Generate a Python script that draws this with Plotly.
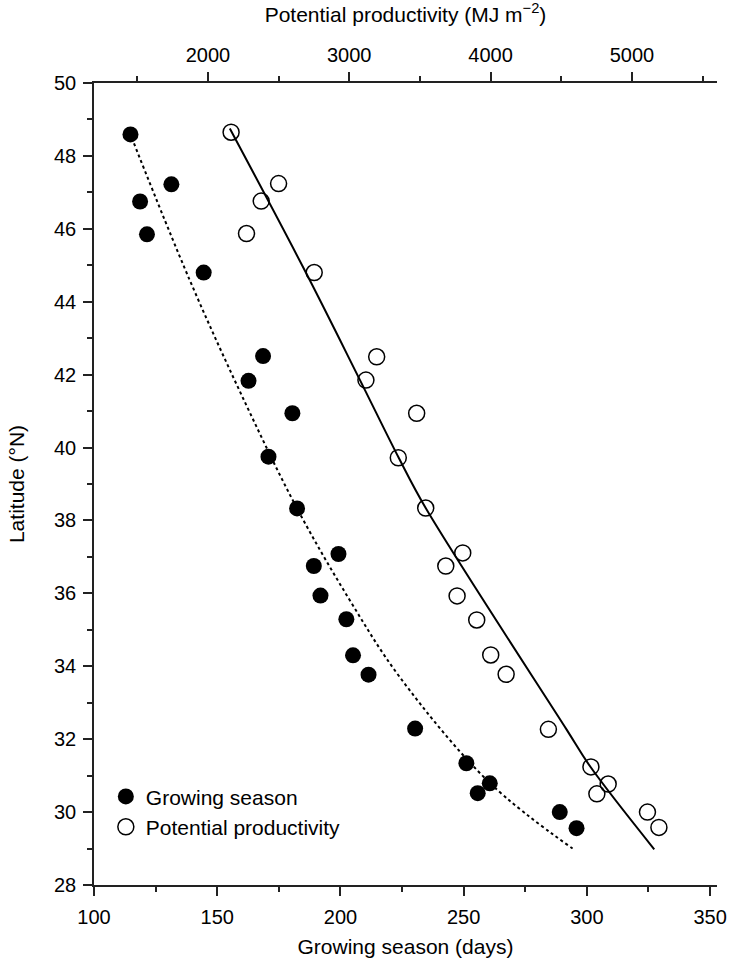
import plotly.graph_objects as go

# Growing season (days) vs latitude (filled circles, bottom axis)
gs_days = [114.8, 131.4, 118.7, 121.5, 144.5, 168.6, 162.7, 180.5, 170.8, 182.4,
           199.2, 189.2, 191.9, 202.4, 205.1, 211.4, 230.3, 251.1, 260.6, 255.7,
           289.0, 295.8]
gs_lat = [48.59, 47.22, 46.75, 45.85, 44.80, 42.51, 41.83, 40.94, 39.75, 38.33,
          37.08, 36.75, 35.94, 35.29, 34.30, 33.77, 32.29, 31.34, 30.79, 30.52,
          30.00, 29.56]

# Potential productivity (MJ m-2) vs latitude (open circles, top axis)
pp_mj = [2164, 2500, 2377, 2273, 2752, 3194, 3118, 3477, 3347, 3541,
         3803, 3683, 3763, 3902, 4001, 4110, 4409, 4710, 4832, 4752,
         5110, 5191]
pp_lat = [48.65, 47.24, 46.76, 45.87, 44.80, 42.49, 41.85, 40.94, 39.72, 38.34,
          37.11, 36.75, 35.93, 35.27, 34.31, 33.78, 32.27, 31.24, 30.77, 30.50,
          30.00, 29.58]

# Fitted curves
gs_fit_days = [115.3, 138.8, 161.9, 182.4, 203.0, 224.1, 260.6, 294.2]
gs_fit_lat = [48.50, 44.60, 41.15, 38.33, 35.90, 33.70, 30.80, 29.00]

pp_fit_mj = [2155, 2693, 3076, 3350, 3541, 4537, 4705, 5158]
pp_fit_lat = [48.75, 44.80, 41.85, 39.72, 38.34, 32.27, 31.25, 28.98]

FONT = "Liberation Sans, Arial, Helvetica, sans-serif"
AX = "#222222"

fig = go.Figure()
fig.add_trace(go.Scatter(x=gs_fit_days, y=gs_fit_lat, mode="lines",
                         line=dict(color="black", width=2, dash="dot", shape="spline"),
                         showlegend=False, hoverinfo="skip"))
fig.add_trace(go.Scatter(x=pp_fit_mj, y=pp_fit_lat, xaxis="x2", mode="lines",
                         line=dict(color="black", width=2, shape="spline"),
                         showlegend=False, hoverinfo="skip"))
fig.add_trace(go.Scatter(x=gs_days, y=gs_lat, mode="markers", name="Growing season",
                         marker=dict(symbol="circle", size=16, color="black")))
fig.add_trace(go.Scatter(x=pp_mj, y=pp_lat, xaxis="x2", mode="markers",
                         name="Potential productivity",
                         marker=dict(symbol="circle-open", size=16, color="black",
                                     line=dict(width=1.5))))

common = dict(showgrid=False, zeroline=False, showline=True, linecolor=AX, linewidth=1.5,
              ticks="outside", ticklen=9, tickwidth=1.5, tickcolor=AX,
              tickfont=dict(family=FONT, size=20, color="black"))

fig.update_layout(
    width=730, height=969,
    margin=dict(l=94, r=13, t=83, b=84, autoexpand=False),
    paper_bgcolor="white", plot_bgcolor="white",
    font=dict(family=FONT, size=20, color="black"),
    xaxis=dict(range=[100, 352.8], tick0=100, dtick=50, anchor="y",
               minor=dict(dtick=25, ticklen=5, ticks="outside", tickcolor=AX, tickwidth=1.5),
               title=dict(text="Growing season (days)", font=dict(family=FONT, size=21), standoff=13),
               ticklabelstandoff=4, **common),
    xaxis2=dict(range=[1194, 5602], tick0=0, dtick=1000, overlaying="x", side="top", anchor="y",
                minor=dict(dtick=500, ticklen=5, ticks="outside", tickcolor=AX, tickwidth=1.5),
                title=dict(text="Potential productivity (MJ m<sup>\u22122</sup>)",
                           font=dict(family=FONT, size=21), standoff=17),
                ticklabelstandoff=2, **common),
    yaxis=dict(range=[28, 50], tick0=28, dtick=2,
               minor=dict(dtick=1, ticklen=5, ticks="outside", tickcolor=AX, tickwidth=1.5),
               title=dict(text="Latitude (\u00b0N)", font=dict(family=FONT, size=21), standoff=24),
               ticklabelstandoff=3, **common),
    legend=dict(x=0.019, y=0.047, xanchor="left", yanchor="bottom",
                bgcolor="rgba(0,0,0,0)", font=dict(family=FONT, size=21),
                itemsizing="trace", tracegroupgap=0),
    showlegend=True,
)

fig.write_html("out.html")
